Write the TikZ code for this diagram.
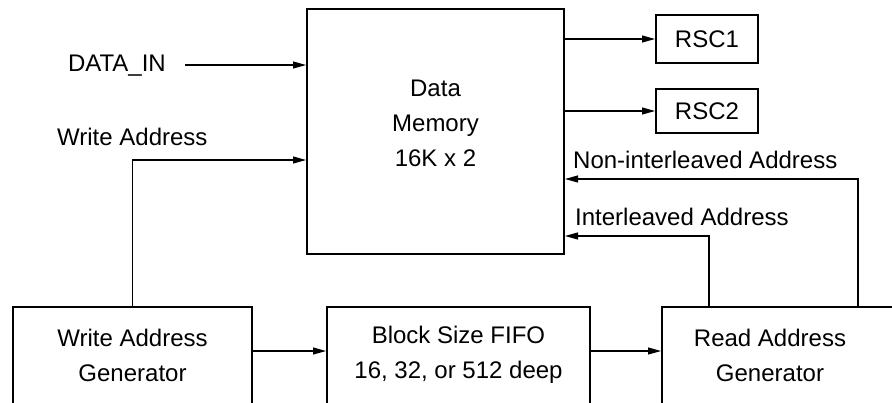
\documentclass[tikz,border=0pt]{standalone}
\usepackage{fontspec}
\setmainfont{Liberation Sans}
\usetikzlibrary{arrows.meta,calc}
\begin{document}
\begin{tikzpicture}[x=1pt,y=-1pt,
  every node/.style={font=\fontsize{24}{35}\selectfont, inner sep=0pt},
  blk/.style={draw, line width=2pt, rectangle, align=center},
  lbl/.style={align=center},
  arr/.style={line width=1.1pt, -{Triangle[length=13pt,width=7pt]}},
  wire/.style={line width=1.1pt}]
\useasboundingbox (0,0) rectangle (892,402);
\clip (0,0) rectangle (892,402);
% blocks
\node[blk, minimum width=257pt, minimum height=245pt] (mem) at (435.5,131.5) {};
\node[lbl] (memtxt) at (435.5,123) {Data\\Memory\\16K x 2};
\node[blk, minimum width=102pt, minimum height=48pt] (rsc1) at (707,39) {RSC1};
\node[blk, minimum width=102pt, minimum height=44pt] (rsc2) at (707,111) {RSC2};
\node[blk, minimum width=239pt, minimum height=100pt] (wag) at (132.5,357) {};
\node[lbl] (wagtxt) at (132.5,355) {Write Address\\Generator};
\node[blk, minimum width=263pt, minimum height=100pt] (fifo) at (458.5,357) {};
\node[lbl] (fifotxt) at (458.5,355) {Block Size FIFO\\16, 32, or 512 deep};
\node[blk, minimum width=260pt, minimum height=100pt] (rag) at (792,357) {};
\node[lbl] (ragtxt) at (770,355) {Read Address\\Generator};
% labels
\node[anchor=east] (datain) at (166,66) {DATA\_IN};
\node[anchor=west] (walbl) at (57,137) {Write Address};
\node[anchor=west] (nilbl) at (573,160) {Non-interleaved Address};
\node[anchor=west] (ilbl) at (575,217) {Interleaved Address};
% coordinates
\coordinate (dinstart) at (185,65);
\coordinate (memdin) at (mem.west |- dinstart);
\path (mem.west) ++(0,28.5) coordinate (memwa);
\path (mem.east) ++(0,47.5) coordinate (memni);
\path (mem.east) ++(0,104.5) coordinate (memil);
\path (rag.north west) ++(48,0) coordinate (ragil);
\path (rag.north west) ++(197,0) coordinate (ragni);
% connectors
\draw[arr] (dinstart) -- (memdin);
\draw[arr] (wag.north) |- (memwa);
\draw[arr] (mem.east |- rsc1.west) -- (rsc1.west);
\draw[arr] (mem.east |- rsc2.west) -- (rsc2.west);
\draw[arr] (ragni) |- (memni);
\draw[arr] (ragil) |- (memil);
\draw[arr] (wag.east |- 0,351) -- (fifo.west |- 0,351);
\draw[arr] (fifo.east |- 0,351) -- (rag.west |- 0,351);
\end{tikzpicture}
\end{document}
